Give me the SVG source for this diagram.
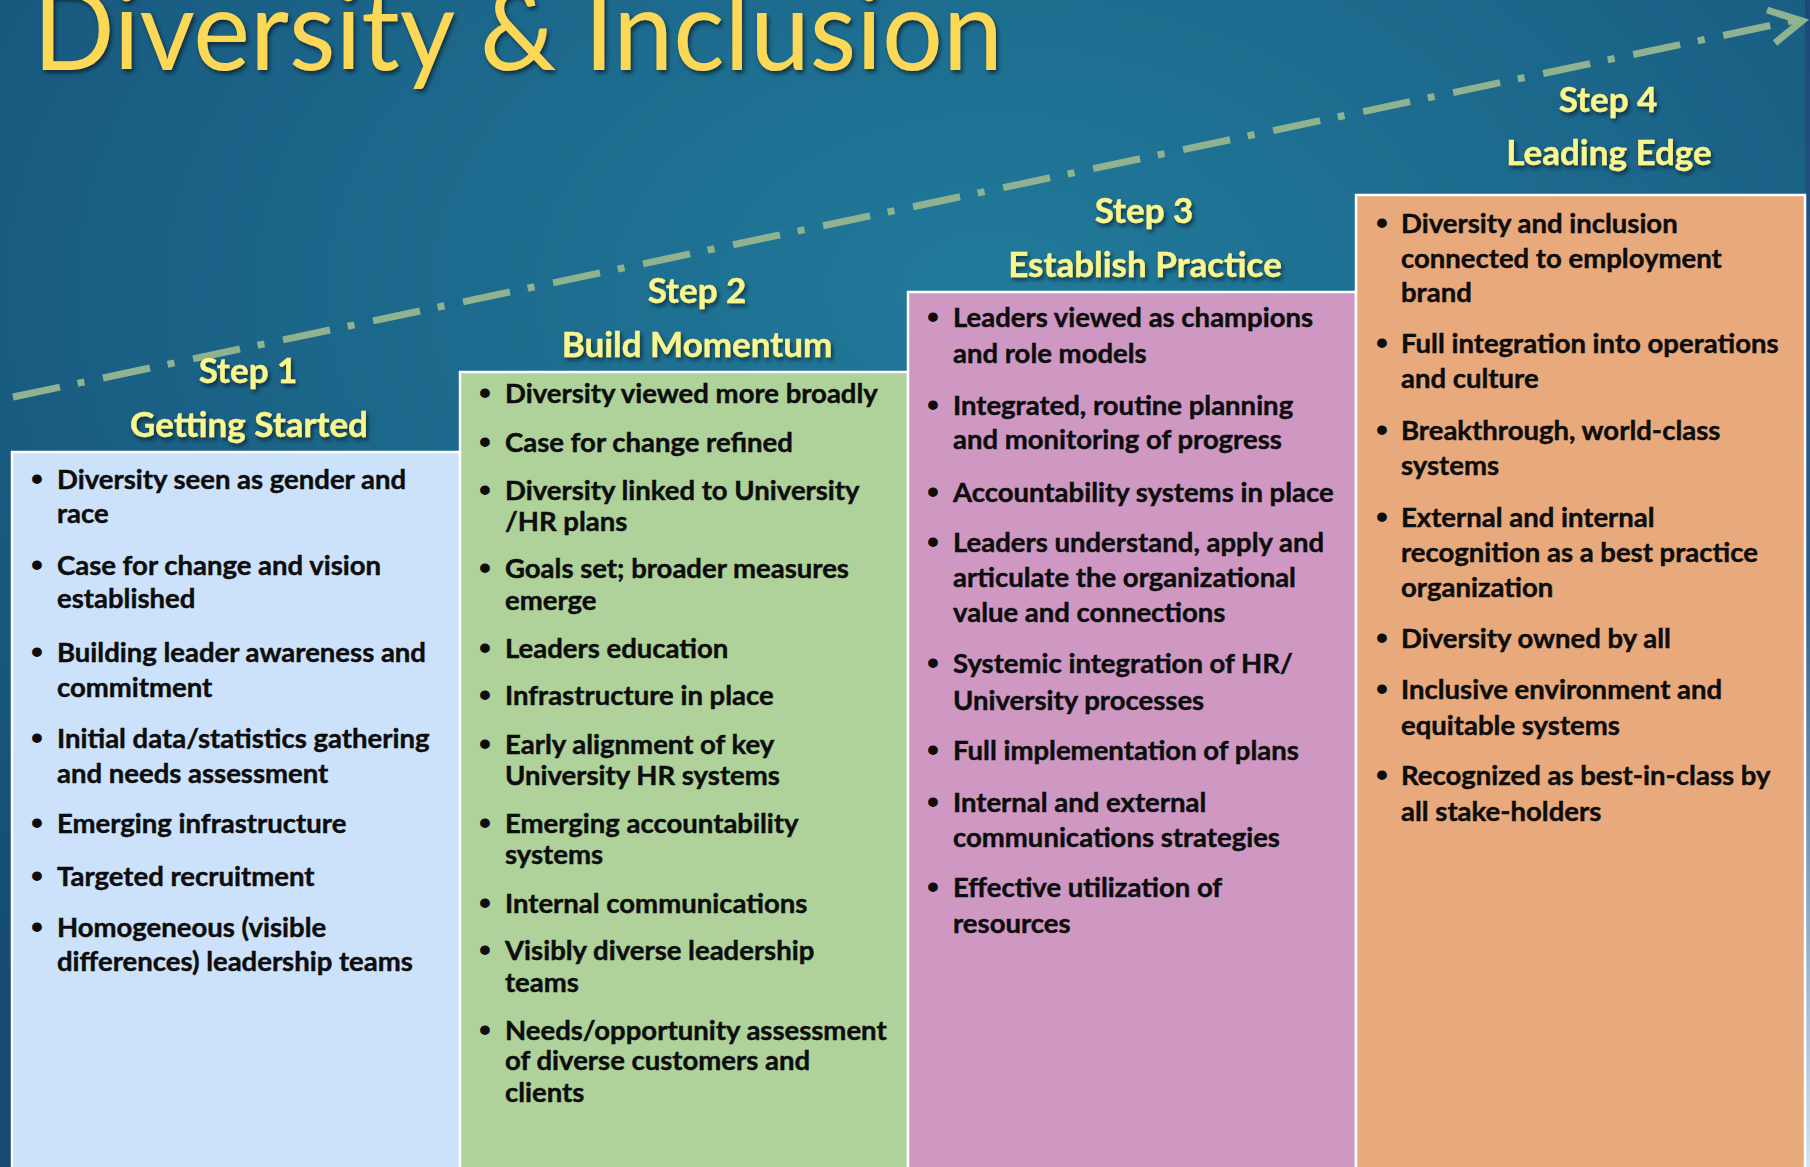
<svg xmlns="http://www.w3.org/2000/svg" width="1810" height="1167" viewBox="0 0 1810 1167">
<defs>
<radialGradient id="bg" cx="0.55" cy="0.25" r="0.8">
<stop offset="0" stop-color="#217a9a"/>
<stop offset="0.5" stop-color="#1b6589"/>
<stop offset="1" stop-color="#164b73"/>
</radialGradient>
<linearGradient id="edge" x1="0" y1="0" x2="0" y2="1">
<stop offset="0" stop-color="#1b4a78"/>
<stop offset="0.5" stop-color="#2a5c8c"/>
<stop offset="1" stop-color="#d6e2f0"/>
</linearGradient>
<filter id="sh" x="-10%" y="-20%" width="120%" height="150%">
<feDropShadow dx="2" dy="3" stdDeviation="2" flood-color="#000" flood-opacity="0.55"/>
</filter>
</defs>
<style>
.title{font-family:Lato,"Liberation Sans",sans-serif;font-weight:400;font-size:112px;fill:#fdd757}
.lbl{font-family:Lato,"Liberation Sans",sans-serif;font-weight:700;font-size:35px;fill:#faf58c;text-anchor:middle;stroke:#faf58c;stroke-width:0.4}
.b{font-family:Lato,"Liberation Sans",sans-serif;font-weight:700;font-size:27.5px;fill:#0d0d0d;stroke:#0d0d0d;stroke-width:0.45}
.d{font-family:"Liberation Sans",sans-serif;font-weight:700;font-size:34px;fill:#0d0d0d;text-anchor:middle}
.box{stroke:#ffffff;stroke-width:2.5}
.arrow{fill:none;stroke:#8fb290;stroke-width:7}
</style>
<rect x="0" y="0" width="1810" height="1167" fill="url(#bg)"/>
<rect x="1805" y="0" width="5" height="1167" fill="url(#edge)"/>
<text class="title" x="33" y="70" textLength="970" lengthAdjust="spacingAndGlyphs" filter="url(#sh)">Diversity &amp; Inclusion</text>

<g id="connectors">
<line class="arrow" x1="13" y1="397" x2="1795" y2="20.3" stroke-dasharray="48 18 7 19"/>
<polyline class="arrow" points="1767,10 1802,21 1775,43" stroke-linejoin="miter"/>
</g>

<g id="step1">
<rect class="box" x="12" y="452" width="448" height="720" fill="#cce1fa"/>
<text class="lbl" x="248" y="383" filter="url(#sh)">Step 1</text>
<text class="lbl" x="249" y="437" filter="url(#sh)">Getting Started</text>
<text class="d" x="37" y="490">•</text><text class="b" x="57" y="489">Diversity seen as gender and</text>
<text class="b" x="57" y="523">race</text>
<text class="d" x="37" y="576">•</text><text class="b" x="57" y="575">Case for change and vision</text>
<text class="b" x="57" y="608">established</text>
<text class="d" x="37" y="663">•</text><text class="b" x="57" y="662">Building leader awareness and</text>
<text class="b" x="57" y="697">commitment</text>
<text class="d" x="37" y="749">•</text><text class="b" x="57" y="748">Initial data/statistics gathering</text>
<text class="b" x="57" y="783">and needs assessment</text>
<text class="d" x="37" y="834">•</text><text class="b" x="57" y="833">Emerging infrastructure</text>
<text class="d" x="37" y="887">•</text><text class="b" x="57" y="886">Targeted recruitment</text>
<text class="d" x="37" y="938">•</text><text class="b" x="57" y="937">Homogeneous (visible</text>
<text class="b" x="57" y="971">differences) leadership teams</text>
</g>

<g id="step2">
<rect class="box" x="460" y="372" width="448" height="800" fill="#aed29a"/>
<text class="lbl" x="697" y="303" filter="url(#sh)">Step 2</text>
<text class="lbl" x="697" y="357" filter="url(#sh)">Build Momentum</text>
<text class="d" x="485" y="404">•</text><text class="b" x="505" y="403">Diversity viewed more broadly</text>
<text class="d" x="485" y="453">•</text><text class="b" x="505" y="452">Case for change refined</text>
<text class="d" x="485" y="501">•</text><text class="b" x="505" y="500">Diversity linked to University</text>
<text class="b" x="505" y="531">/HR plans</text>
<text class="d" x="485" y="579">•</text><text class="b" x="505" y="578">Goals set; broader measures</text>
<text class="b" x="505" y="610">emerge</text>
<text class="d" x="485" y="659">•</text><text class="b" x="505" y="658">Leaders education</text>
<text class="d" x="485" y="706">•</text><text class="b" x="505" y="705">Infrastructure in place</text>
<text class="d" x="485" y="755">•</text><text class="b" x="505" y="754">Early alignment of key</text>
<text class="b" x="505" y="785">University HR systems</text>
<text class="d" x="485" y="834">•</text><text class="b" x="505" y="833">Emerging accountability</text>
<text class="b" x="505" y="864">systems</text>
<text class="d" x="485" y="914">•</text><text class="b" x="505" y="913">Internal communications</text>
<text class="d" x="485" y="961">•</text><text class="b" x="505" y="960">Visibly diverse leadership</text>
<text class="b" x="505" y="992">teams</text>
<text class="d" x="485" y="1041">•</text><text class="b" x="505" y="1040">Needs/opportunity assessment</text>
<text class="b" x="505" y="1070">of diverse customers and</text>
<text class="b" x="505" y="1102">clients</text>
</g>

<g id="step3">
<rect class="box" x="908" y="292" width="448" height="880" fill="#ce98c3"/>
<text class="lbl" x="1144" y="223" filter="url(#sh)">Step 3</text>
<text class="lbl" x="1145" y="277" filter="url(#sh)">Establish Practice</text>
<text class="d" x="933" y="328">•</text><text class="b" x="953" y="327">Leaders viewed as champions</text>
<text class="b" x="953" y="363">and role models</text>
<text class="d" x="933" y="416">•</text><text class="b" x="953" y="415">Integrated, routine planning</text>
<text class="b" x="953" y="449">and monitoring of progress</text>
<text class="d" x="933" y="503">•</text><text class="b" x="953" y="502">Accountability systems in place</text>
<text class="d" x="933" y="553">•</text><text class="b" x="953" y="552">Leaders understand, apply and</text>
<text class="b" x="953" y="587">articulate the organizational</text>
<text class="b" x="953" y="622">value and connections</text>
<text class="d" x="933" y="674">•</text><text class="b" x="953" y="673">Systemic integration of HR/</text>
<text class="b" x="953" y="710">University processes</text>
<text class="d" x="933" y="761">•</text><text class="b" x="953" y="760">Full implementation of plans</text>
<text class="d" x="933" y="813">•</text><text class="b" x="953" y="812">Internal and external</text>
<text class="b" x="953" y="847">communications strategies</text>
<text class="d" x="933" y="898">•</text><text class="b" x="953" y="897">Effective utilization of</text>
<text class="b" x="953" y="933">resources</text>
</g>

<g id="step4">
<rect class="box" x="1356" y="195" width="449" height="977" fill="#e8a97d"/>
<text class="lbl" x="1608" y="112" filter="url(#sh)">Step 4</text>
<text class="lbl" x="1609" y="165" filter="url(#sh)">Leading Edge</text>
<text class="d" x="1382" y="234">•</text><text class="b" x="1401" y="233">Diversity and inclusion</text>
<text class="b" x="1401" y="268">connected to employment</text>
<text class="b" x="1401" y="302">brand</text>
<text class="d" x="1382" y="354">•</text><text class="b" x="1401" y="353">Full integration into operations</text>
<text class="b" x="1401" y="388">and culture</text>
<text class="d" x="1382" y="441">•</text><text class="b" x="1401" y="440">Breakthrough, world-class</text>
<text class="b" x="1401" y="475">systems</text>
<text class="d" x="1382" y="528">•</text><text class="b" x="1401" y="527">External and internal</text>
<text class="b" x="1401" y="562">recognition as a best practice</text>
<text class="b" x="1401" y="597">organization</text>
<text class="d" x="1382" y="649">•</text><text class="b" x="1401" y="648">Diversity owned by all</text>
<text class="d" x="1382" y="700">•</text><text class="b" x="1401" y="699">Inclusive environment and</text>
<text class="b" x="1401" y="735">equitable systems</text>
<text class="d" x="1382" y="786">•</text><text class="b" x="1401" y="785">Recognized as best-in-class by</text>
<text class="b" x="1401" y="821">all stake-holders</text>
</g>
</svg>
